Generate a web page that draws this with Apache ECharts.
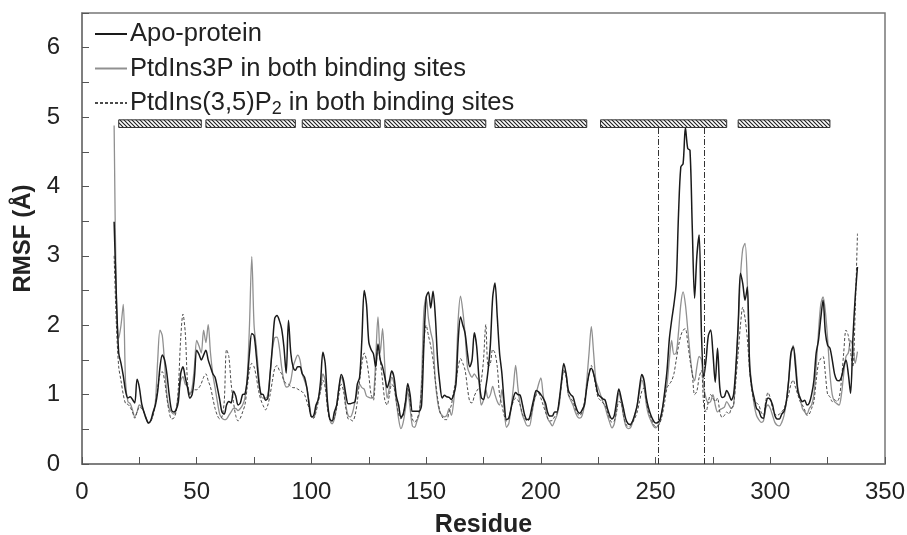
<!DOCTYPE html>
<html>
<head>
<meta charset="utf-8">
<script src="https://cdn.jsdelivr.net/npm/echarts@6/dist/echarts.min.js"></script>
<style>
html,body{margin:0;padding:0;background:#fff;}
#chart{width:907px;height:535px;}
</style>
</head>
<body>
<div id="chart"></div>
<script>
// ---- DATA ----
const FIRST_RESIDUE = 14;

// Apo-protein RMSF (Å), residues 14..338
const apo = [
  3.49, 2.4, 1.6, 1.45, 1.27, 1.05,
  0.95, 0.97, 0.93, 0.88, 1.22, 1.1, 0.87, 0.75, 0.65, 0.59,
  0.63, 0.75, 0.85, 1.05, 1.4, 1.57, 1.5, 1.3, 1.0, 0.78,
  0.75, 0.78, 0.9, 1.3, 1.40, 1.25, 1.10, 0.95, 1.0, 1.25,
  1.64, 1.58, 1.50, 1.57, 1.64, 1.50, 1.40, 1.30, 1.25, 1.10,
  0.93, 0.75, 0.72, 0.85, 0.90, 0.88, 1.05, 0.98, 0.85, 0.88,
  1.0, 1.01, 1.2, 1.6, 1.88, 1.85, 1.55, 1.2, 1.01, 1.0,
  0.92, 0.95, 1.3, 1.7, 2.10, 2.14, 2.07, 1.95, 1.69, 1.31,
  2.07, 1.6, 1.40, 1.35, 1.40, 1.40, 1.30, 1.25, 1.1, 0.85,
  0.68, 0.7, 0.85, 0.93, 1.2, 1.61, 1.45, 0.9, 0.65, 0.62,
  0.75, 0.85, 1.1, 1.29, 1.2, 1.0, 0.87, 0.87, 0.88, 0.9,
  1.15, 1.25, 1.8, 2.50, 2.3, 1.76, 1.65, 1.59, 1.4, 1.73,
  1.5, 1.4, 1.25, 1.1, 1.2, 1.34, 1.25, 0.98, 0.85, 0.67,
  0.72, 0.9, 1.16, 1.0, 0.76, 0.76, 0.76, 0.76, 0.85, 1.71,
  2.40, 2.48, 2.25, 2.49, 2.13, 1.50, 1.15, 0.95, 0.99, 0.97,
  0.96, 0.93, 1.0, 1.15, 1.8, 2.12, 2.0, 1.88, 1.6, 1.40,
  1.5, 1.89, 1.7, 1.25, 0.96, 0.93, 1.1, 1.35, 1.72, 2.40,
  2.61, 2.12, 1.6, 1.31, 0.9, 0.64, 0.66, 0.8, 0.95, 1.03,
  1.0, 0.99, 0.85, 0.7, 0.64, 0.66, 0.8, 0.95, 1.06, 1.04,
  1.00, 0.95, 0.88, 0.74, 0.69, 0.69, 0.75, 0.75, 0.92, 1.2,
  1.45, 1.3, 1.06, 1.0, 0.97, 0.85, 0.76, 0.73, 0.78, 0.85,
  1.1, 1.3, 1.38, 1.3, 1.15, 1.0, 0.97, 0.94, 0.92, 0.8,
  0.7, 0.65, 0.7, 0.9, 1.08, 0.95, 0.8, 0.65, 0.58, 0.57,
  0.62, 0.72, 0.85, 1.1, 1.29, 1.2, 0.95, 0.8, 0.7, 0.63,
  0.59, 0.6, 0.65, 0.8, 1.05, 1.35, 1.8, 2.07, 2.3, 2.6,
  3.6, 4.28, 4.33, 4.85, 4.55, 4.52, 3.4, 2.39, 3.0, 3.30,
  1.88, 1.25, 1.5, 1.85, 1.93, 1.6, 1.18, 1.67, 1.1, 0.96,
  0.97, 1.06, 1.0, 0.92, 1.0, 1.40, 2.0, 2.75, 2.6, 2.36,
  2.55, 1.40, 1.1, 0.95, 0.8, 0.77, 0.68, 0.66, 0.85, 0.95,
  0.93, 0.85, 0.7, 0.65, 0.65, 0.72, 0.76, 0.9, 1.2, 1.6,
  1.69, 1.4, 1.05, 0.95, 0.9, 0.92, 0.85, 0.88, 1.0, 1.2,
  1.6, 1.78, 2.1, 2.36, 1.9, 1.71, 1.67, 1.5, 1.3, 1.21,
  1.2, 1.25, 1.4, 1.5, 1.3, 1.02, 1.8, 2.4, 2.84
];

// PtdIns3P in both binding sites, residues 14..338
const pi3p = [
  4.88, 2.36, 1.81, 2.0, 2.30, 1.17,
  0.9, 0.87, 0.78, 0.68, 0.75, 0.85, 0.82, 0.75, 0.66, 0.59,
  0.62, 0.72, 0.9, 1.5, 1.93, 1.85, 1.45, 1.0, 0.8, 0.75,
  0.72, 0.78, 1.0, 1.2, 1.26, 1.15, 1.12, 1.0, 1.1, 1.4,
  1.78, 1.7, 1.6, 1.93, 1.75, 2.01, 1.6, 1.3, 1.1, 0.9,
  0.72, 0.66, 0.64, 0.65, 0.7, 0.75, 0.8, 0.8, 0.77, 0.8,
  0.85, 0.95, 1.25, 2.0, 2.99, 2.0, 1.68, 1.3, 0.98, 0.95,
  0.95, 1.0, 1.3, 1.65, 1.82, 1.83, 1.68, 1.4, 1.2, 1.11,
  1.12, 1.2, 1.4, 1.50, 1.57, 1.5, 1.3, 1.2, 1.1, 0.9,
  0.68, 0.67, 0.8, 0.95, 1.1, 1.30, 1.2, 0.85, 0.64, 0.58,
  0.65, 0.85, 1.1, 1.25, 1.15, 0.85, 0.7, 0.68, 0.75, 0.9,
  1.05, 1.15, 1.1, 1.08, 0.98, 0.96, 0.95, 0.96, 1.5, 2.12,
  1.6, 1.95, 1.4, 0.95, 1.1, 1.25, 1.15, 0.9, 0.65, 0.51,
  0.6, 0.8, 1.05, 0.8, 0.55, 0.53, 0.62, 0.72, 1.2, 2.2,
  2.41, 2.1, 1.9, 1.75, 1.2, 0.9, 0.75, 0.7, 0.68, 0.7,
  0.8, 0.7, 0.9, 1.3, 2.1, 2.42, 2.2, 1.86, 1.4, 1.30,
  1.25, 1.30, 1.25, 1.2, 0.85, 0.92, 1.07, 0.95, 1.0, 1.12,
  1.0, 0.9, 0.85, 1.07, 0.8, 0.53, 0.58, 0.8, 1.1, 1.42,
  1.1, 0.85, 0.7, 0.62, 0.55, 0.55, 0.7, 0.9, 1.02, 1.15,
  1.24, 1.0, 0.8, 0.65, 0.6, 0.55, 0.62, 0.7, 0.85, 1.15,
  1.35, 1.3, 1.0, 0.92, 0.85, 0.75, 0.68, 0.66, 0.7, 0.85,
  1.2, 1.6, 1.98, 1.6, 1.2, 1.1, 1.0, 0.9, 0.82, 0.7,
  0.6, 0.52, 0.58, 0.8, 1.02, 0.9, 0.7, 0.55, 0.51, 0.52,
  0.6, 0.7, 0.85, 1.05, 1.21, 1.1, 0.85, 0.7, 0.62, 0.55,
  0.52, 0.55, 0.62, 0.8, 1.0, 1.15, 1.5, 1.78, 1.58, 1.6,
  1.9, 2.3, 2.48, 2.3, 1.95, 1.6, 1.3, 1.2, 1.4, 1.55,
  1.5, 1.1, 0.95, 0.88, 0.9, 1.0, 0.85, 0.75, 0.78, 0.8,
  0.82, 0.9, 0.85, 0.8, 0.85, 1.35, 2.0, 2.7, 3.1, 3.18,
  2.6, 1.50, 1.1, 0.85, 0.7, 0.64, 0.6, 0.62, 0.8, 0.85,
  0.8, 0.7, 0.6, 0.56, 0.55, 0.6, 0.7, 0.9, 1.2, 1.55,
  1.71, 1.5, 1.1, 0.95, 0.8, 0.75, 0.72, 0.8, 0.85, 1.0,
  1.4, 1.9, 2.3, 2.41, 2.2, 1.8, 1.3, 1.0, 0.9, 0.87,
  0.85, 1.0, 1.3, 1.55, 1.6, 1.78, 1.7, 1.45, 1.62
];

// PtdIns(3,5)P2 in both binding sites, residues 14..338
const pi35p2 = [
  3.0, 2.0, 1.4, 1.2, 1.0, 0.87,
  0.86, 0.82, 0.75, 0.66, 0.75, 0.82, 0.8, 0.75, 0.65, 0.6,
  0.62, 0.7, 0.85, 1.1, 1.3, 1.33, 1.2, 0.95, 0.75, 0.65,
  0.66, 0.75, 1.1, 1.8, 2.16, 1.9, 1.18, 1.0, 1.05, 1.07,
  1.07, 1.1, 1.16, 1.25, 1.30, 1.2, 1.11, 0.95, 0.8, 0.7,
  0.65, 0.68, 0.9, 1.65, 1.55, 1.16, 0.9, 0.7, 0.62, 0.66,
  0.75, 0.85, 1.1, 1.35, 1.45, 1.4, 1.25, 1.05, 0.92, 0.84,
  0.78, 0.85, 1.0, 1.2, 1.38, 1.42, 1.35, 1.3, 1.2, 1.16,
  1.15, 1.12, 1.1, 1.1, 1.08, 1.06, 1.04, 1.0, 0.9, 0.8,
  0.68, 0.66, 0.75, 0.9, 1.05, 1.21, 1.1, 0.8, 0.64, 0.62,
  0.66, 0.8, 1.0, 1.15, 1.05, 0.8, 0.65, 0.64, 0.62, 0.7,
  0.9, 1.2, 1.45, 1.6, 1.5, 1.28, 1.0, 0.92, 1.3, 1.69,
  1.5, 1.2, 0.92, 0.85, 1.0, 1.15, 1.1, 0.9, 0.72, 0.65,
  0.7, 0.9, 1.1, 0.9, 0.65, 0.6, 0.65, 0.75, 1.1, 1.76,
  2.0, 1.85, 1.7, 1.5, 1.2, 0.95, 0.75, 0.68, 0.64, 0.64,
  0.75, 0.85, 1.05, 1.2, 1.4, 1.52, 1.45, 1.35, 1.1, 0.9,
  0.88, 0.98, 1.05, 1.1, 1.2, 1.5, 2.01, 1.4, 1.45, 1.65,
  1.6, 1.4, 1.0, 0.85, 0.7, 0.62, 0.65, 0.8, 0.9, 0.95,
  0.92, 0.85, 0.72, 0.66, 0.62, 0.64, 0.75, 0.9, 1.0, 1.02,
  0.95, 0.85, 0.75, 0.66, 0.62, 0.63, 0.68, 0.72, 0.9, 1.15,
  1.35, 1.25, 1.0, 0.95, 0.9, 0.8, 0.72, 0.7, 0.75, 0.9,
  1.1, 1.3, 1.42, 1.3, 1.1, 0.95, 0.92, 0.88, 0.85, 0.75,
  0.65, 0.6, 0.62, 0.75, 0.9, 0.88, 0.7, 0.58, 0.54, 0.55,
  0.6, 0.66, 0.75, 0.9, 1.05, 1.1, 0.9, 0.75, 0.66, 0.58,
  0.54, 0.55, 0.6, 0.72, 0.9, 1.1, 1.15, 1.2, 1.3, 1.5,
  1.7, 1.85, 1.93, 1.95, 1.75, 1.5, 1.3, 1.0, 1.05, 1.25,
  1.35, 0.85, 0.75, 0.9, 1.0, 0.95, 0.9, 0.95, 0.75, 0.67,
  0.7, 0.75, 0.72, 0.8, 0.85, 1.2, 1.6, 2.0, 2.26, 2.1,
  1.8, 1.35, 1.05, 0.9, 0.88, 0.85, 0.75, 0.7, 0.9, 1.03,
  0.95, 0.8, 0.72, 0.7, 0.72, 0.75, 0.8, 0.9, 1.0, 1.15,
  1.21, 1.1, 1.0, 0.9, 0.85, 0.78, 0.7, 0.72, 0.8, 0.9,
  1.2, 1.45, 1.52, 1.55, 1.3, 1.0, 0.97, 0.9, 0.93, 0.9,
  0.95, 1.2, 1.6, 1.93, 1.85, 1.6, 1.4, 2.2, 3.32
];

// Secondary-structure segments (residue start, end) shown as hatched bars
const helixRanges = [[16, 52], [54, 93], [96, 130], [132, 176], [180, 220], [226, 281], [286, 326]];
const BAR_TOP = 4.96, BAR_BOTTOM = 4.85;
// Loop boundaries (dash-dot vertical lines)
const loopBounds = [251, 271];

const seriesNames = ['Apo-protein', 'PtdIns3P in both binding sites', 'PtdIns(3,5)P2 in both binding sites'];
const xTicks = { min: 0, max: 350, step: 25, labelStep: 50 };
const yTicks = { min: 0, max: 6.5, step: 0.5, labelStep: 1 };

// ---- CHART ----
const residues = apo.map((_, i) => FIRST_RESIDUE + i);
const pairs = arr => arr.map((v, i) => [residues[i], v]);

function makeHatch() {
  const c = document.createElement('canvas');
  c.width = 4; c.height = 4;
  const g = c.getContext('2d');
  g.fillStyle = '#ffffff';
  g.fillRect(0, 0, 4, 4);
  g.strokeStyle = '#1e1e1e';
  g.lineWidth = 1.1;
  g.beginPath();
  g.moveTo(-1, -1); g.lineTo(5, 5);
  g.moveTo(-1, 3); g.lineTo(1, 5);
  g.moveTo(3, -1); g.lineTo(5, 1);
  g.stroke();
  return c;
}
const hatchCanvas = makeHatch();

const FONT = '"Liberation Sans", Arial, sans-serif';
const chart = echarts.init(document.getElementById('chart'), null, { renderer: 'canvas' });

chart.setOption({
  animation: false,
  backgroundColor: '#ffffff',
  textStyle: { fontFamily: FONT },
  grid: { left: 82, right: 22, top: 13, bottom: 71, outerBoundsMode: 'none', containLabel: false,
    show: true, borderColor: '#777', borderWidth: 1.5, backgroundColor: 'transparent' },
  legend: {
    data: seriesNames,
    orient: 'vertical',
    left: 89,
    top: 16,
    itemWidth: 32,
    itemHeight: 14,
    itemGap: 8.5,
    selectedMode: false,
    itemStyle: { opacity: 0 },
    textStyle: {
      fontFamily: FONT, fontSize: 25.5, color: '#222', lineHeight: 25, padding: [0, 0, 0, -2],
      rich: {
        sub: { fontFamily: FONT, fontSize: 18, color: '#222', padding: [12, 0, 0, 0] }
      }
    },
    formatter: name => name === seriesNames[2] ? 'PtdIns(3,5)P{sub|2} in both binding sites' : name
  },
  xAxis: {
    type: 'value',
    min: xTicks.min, max: xTicks.max, interval: xTicks.step,
    name: 'Residue', nameLocation: 'middle', nameGap: 49,
    nameTextStyle: { fontFamily: FONT, fontSize: 25, fontWeight: 'bold', color: '#222' },
    axisLine: { show: true, lineStyle: { color: '#777', width: 1.5 } },
    axisTick: { show: true, inside: true, length: 7, lineStyle: { color: '#555', width: 1 } },
    axisLabel: { fontFamily: FONT, fontSize: 24, color: '#222', margin: 16,
      formatter: v => (v % xTicks.labelStep === 0 ? String(v) : '') },
    splitLine: { show: false }
  },
  yAxis: {
    type: 'value',
    min: yTicks.min, max: yTicks.max, interval: yTicks.step,
    name: 'RMSF (Å)', nameLocation: 'middle', nameGap: 36, nameRotate: 90,
    nameTextStyle: { fontFamily: FONT, fontSize: 24, fontWeight: 'bold', color: '#222' },
    axisLine: { show: true, lineStyle: { color: '#777', width: 1.5 } },
    axisTick: { show: true, inside: true, length: 7, lineStyle: { color: '#555', width: 1 } },
    axisLabel: { fontFamily: FONT, fontSize: 24, color: '#222', margin: 22,
      formatter: v => (Math.abs(v % yTicks.labelStep) < 1e-9 ? String(v) : '') },
    splitLine: { show: false }
  },
  series: [
    {
      name: seriesNames[1], type: 'line', data: pairs(pi3p),
      symbol: 'none', smooth: 0.3, z: 2,
      lineStyle: { color: '#909090', width: 1.3 }, itemStyle: { color: '#909090' }
    },
    {
      name: seriesNames[2], type: 'line', data: pairs(pi35p2),
      symbol: 'none', smooth: 0.3, z: 3,
      lineStyle: { color: '#4a4a4a', width: 1, type: [3, 2] }, itemStyle: { color: '#4a4a4a' }
    },
    {
      name: seriesNames[0], type: 'line', data: pairs(apo),
      symbol: 'none', smooth: 0.3, z: 4,
      lineStyle: { color: '#1a1a1a', width: 1.5 }, itemStyle: { color: '#1a1a1a' },
      markLine: {
        silent: true, symbol: 'none', label: { show: false },
        lineStyle: { color: '#333', width: 1, type: [6, 2, 1, 2] },
        data: loopBounds.map(r => [{ coord: [r, 0] }, { coord: [r, BAR_BOTTOM] }])
      }
    },
    {
      name: 'helices', type: 'custom', data: helixRanges, z: 5,
      encode: { x: [0, 1] },
      renderItem: (params, api) => {
        const p1 = api.coord([api.value(0), BAR_TOP]);
        const p2 = api.coord([api.value(1), BAR_BOTTOM]);
        return {
          type: 'rect',
          shape: { x: p1[0], y: p1[1], width: p2[0] - p1[0], height: p2[1] - p1[1] },
          style: { fill: { image: hatchCanvas, repeat: 'repeat' }, stroke: '#333', lineWidth: 1 }
        };
      }
    }
  ]
});
</script>
</body>
</html>
